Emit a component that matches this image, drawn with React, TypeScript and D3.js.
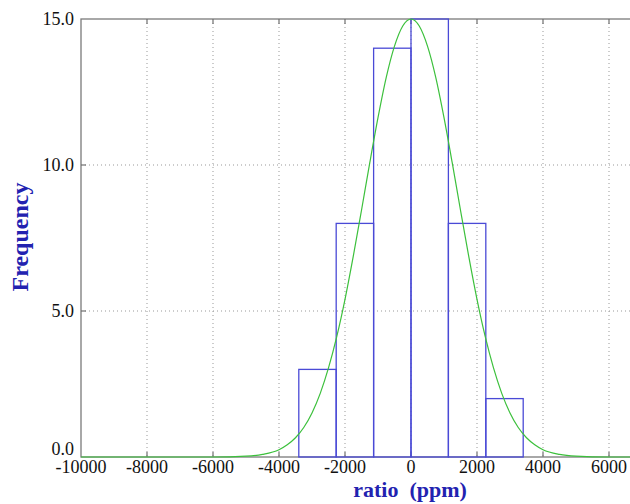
import { useEffect, useRef } from "react"
import * as d3 from "d3"

// histogram bin edges (ppm) and counts
const binEdges = [-3400, -2267, -1133, 0, 1133, 2267, 3400]
const binCounts = [3, 8, 14, 15, 8, 2]

// fitted normal curve
const curveX = [
	-10000, -6000, -5000, -4500, -4000, -3750, -3500, -3250, -3000, -2750, -2500,
	-2250, -2000, -1750, -1500, -1250, -1000, -750, -500, -250, 0, 250, 500, 750,
	1000, 1250, 1500, 1750, 2000, 2250, 2500, 2750, 3000, 3250, 3500, 3750, 4000,
	4500, 5000, 6000, 7000,
]
const curveY = [
	0, 0, 0.03, 0.09, 0.25, 0.42, 0.66, 1.01, 1.51, 2.18, 3.05, 4.12, 5.4, 6.87,
	8.45, 10.07, 11.62, 13.0, 14.07, 14.76, 15, 14.76, 14.07, 13.0, 11.62, 10.07,
	8.45, 6.87, 5.4, 4.12, 3.05, 2.18, 1.51, 1.01, 0.66, 0.42, 0.25, 0.09, 0.03,
	0, 0,
]

const xTicks = [-10000, -8000, -6000, -4000, -2000, 0, 2000, 4000, 6000]
const yTicks = [0, 5, 10, 15]

export default function App() {
	const ref = useRef(null)
	const width = 630
	const height = 504

	useEffect(() => {
		const svg = d3.select(ref.current)
		svg.selectAll("*").remove()

		const x = d3.scaleLinear().domain([-10000, 7000]).range([81, 642])
		const y = d3.scaleLinear().domain([0, 15]).range([457, 19])
		const [x0, x1] = x.range()
		const [yb, yt] = y.range()
		const grey = "#7a7a7a"
		const font = "'Liberation Serif', 'Times New Roman', serif"

		// dotted grid
		const grid = svg.append("g")
		grid
			.selectAll("line.gx")
			.data(xTicks.slice(1))
			.enter()
			.append("line")
			.attr("x1", (d) => x(d))
			.attr("x2", (d) => x(d))
			.attr("y1", yt)
			.attr("y2", yb)
			.attr("stroke", "#999")
			.attr("stroke-dasharray", "1,3")
		grid
			.selectAll("line.gy")
			.data(yTicks.slice(1, -1))
			.enter()
			.append("line")
			.attr("x1", x0)
			.attr("x2", x1)
			.attr("y1", (d) => y(d))
			.attr("y2", (d) => y(d))
			.attr("stroke", "#999")
			.attr("stroke-dasharray", "1,3")

		// frame
		svg
			.append("rect")
			.attr("x", x0)
			.attr("y", yt)
			.attr("width", x1 - x0)
			.attr("height", yb - yt)
			.attr("fill", "none")
			.attr("stroke", grey)
			.attr("stroke-width", 1.3)

		// inner ticks
		const ticks = svg.append("g").attr("stroke", grey).attr("stroke-width", 1.3)
		xTicks.slice(1).forEach((t) => {
			ticks.append("line").attr("x1", x(t)).attr("x2", x(t)).attr("y1", yt).attr("y2", yt + 5)
			ticks.append("line").attr("x1", x(t)).attr("x2", x(t)).attr("y1", yb).attr("y2", yb - 5)
		})
		yTicks.slice(1, -1).forEach((t) => {
			ticks.append("line").attr("x1", x0).attr("x2", x0 + 5).attr("y1", y(t)).attr("y2", y(t))
		})

		// histogram bars
		const bins = binCounts.map((c, i) => ({ a: binEdges[i], b: binEdges[i + 1], c }))
		svg
			.append("g")
			.selectAll("rect")
			.data(bins)
			.enter()
			.append("rect")
			.attr("x", (d) => x(d.a))
			.attr("y", (d) => y(d.c))
			.attr("width", (d) => x(d.b) - x(d.a))
			.attr("height", (d) => y(0) - y(d.c))
			.attr("fill", "none")
			.attr("stroke", "#4a4ad6")
			.attr("stroke-width", 1.3)

		// normal fit
		const line = d3
			.line()
			.x((d) => x(d[0]))
			.y((d) => y(d[1]))
			.curve(d3.curveMonotoneX)
		svg
			.append("path")
			.attr("d", line(curveX.map((v, i) => [v, curveY[i]])))
			.attr("fill", "none")
			.attr("stroke", "#3cc03c")
			.attr("stroke-width", 1.2)

		// tick labels
		svg
			.append("g")
			.selectAll("text")
			.data(xTicks)
			.enter()
			.append("text")
			.attr("x", (d) => x(d))
			.attr("y", yb + 16)
			.attr("text-anchor", "middle")
			.attr("font-family", font)
			.attr("font-size", 18)
			.attr("fill", "#111")
			.text((d) => d)
		svg
			.append("g")
			.selectAll("text")
			.data(yTicks)
			.enter()
			.append("text")
			.attr("x", x0 - 7)
			.attr("y", (d) => y(d) + (d === 0 ? -2 : 6))
			.attr("text-anchor", "end")
			.attr("font-family", font)
			.attr("font-size", 18)
			.attr("fill", "#111")
			.text((d) => d.toFixed(1))

		// axis titles
		svg
			.append("text")
			.attr("x", 410)
			.attr("y", 497)
			.attr("text-anchor", "middle")
			.attr("font-family", font)
			.attr("font-weight", "bold")
			.attr("font-size", 22)
			.attr("fill", "#2222b0")
			.attr("xml:space", "preserve")
			.text("ratio  (ppm)")
		svg
			.append("text")
			.attr("transform", "translate(28,237) rotate(-90)")
			.attr("text-anchor", "middle")
			.attr("font-family", font)
			.attr("font-weight", "bold")
			.attr("font-size", 24)
			.attr("fill", "#2222b0")
			.text("Frequency")
	}, [])

	return (
		<svg
			ref={ref}
			width={width}
			height={height}
			style={{ position: "absolute", left: 0, top: 0, background: "#fff" }}
		></svg>
	)
}
